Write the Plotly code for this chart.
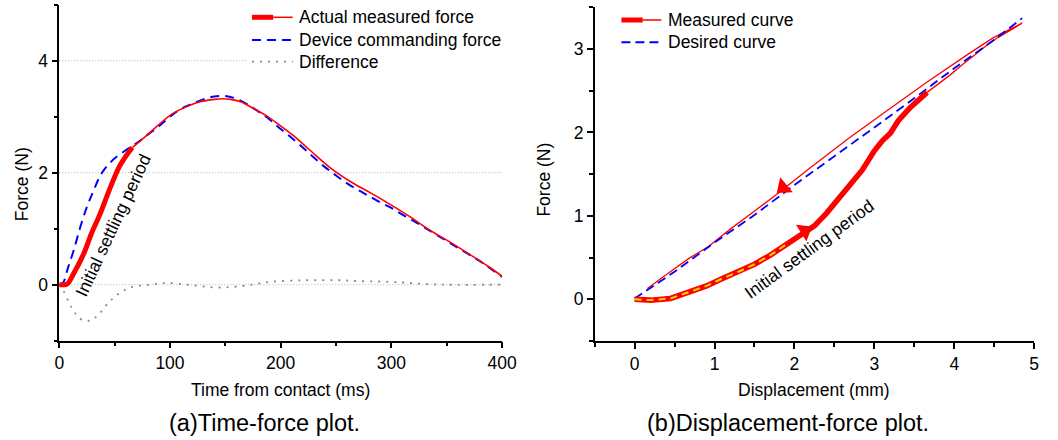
import plotly.graph_objects as go

W, H = 1058, 440
FONT = "Liberation Sans, Arial, Helvetica, sans-serif"

# ---------------- (a) Time-force data ----------------
t_act = [0, 3, 7, 13, 22, 29, 37, 45, 54, 60, 66, 78, 90, 102, 115, 128, 140, 147, 155, 165,
         175, 187, 199, 211, 226, 246, 264, 282, 300, 317, 335, 353, 370, 388, 400]
f_act = [0, 0, 0.01, 0.2, 0.55, 0.91, 1.27, 1.68, 2.1, 2.29, 2.45, 2.65, 2.86, 3.05, 3.18, 3.27,
         3.31, 3.32, 3.31, 3.26, 3.15, 3.02, 2.85, 2.67, 2.41, 2.07, 1.83, 1.63, 1.42, 1.21, 0.97,
         0.76, 0.55, 0.32, 0.15]
settle_end_ms = 66

t_cmd = [0, 3, 8, 13, 19, 25, 31, 38, 48, 60, 70, 80, 90, 100, 110, 120, 130, 140, 150, 160,
         170, 180, 190, 200, 210, 220, 230, 240, 250, 260, 270, 280, 290, 300, 310, 320, 330,
         340, 350, 360, 370, 380, 390, 400]
f_cmd = [0, 0.02, 0.31, 0.61, 1.03, 1.39, 1.68, 1.98, 2.22, 2.40, 2.53, 2.68, 2.83, 3.00, 3.14,
         3.23, 3.31, 3.36, 3.37, 3.32, 3.22, 3.09, 2.95, 2.78, 2.62, 2.45, 2.27, 2.10, 1.95, 1.81,
         1.69, 1.58, 1.47, 1.37, 1.25, 1.14, 1.02, 0.90, 0.78, 0.66, 0.54, 0.42, 0.28, 0.14]

t_diff = [0, 4, 11, 19, 28, 36, 45, 56, 66, 78, 97, 120, 143, 167, 190, 223, 252, 270, 300,
          317, 332, 350, 400]
f_diff = [0, -0.12, -0.4, -0.61, -0.64, -0.52, -0.31, -0.13, -0.04, -0.01, 0.03, -0.01, -0.05,
          -0.02, 0.05, 0.08, 0.08, 0.065, 0.05, 0.03, 0.01, 0.0, 0.0]

y_ticks_a = [0, 2, 4]

# ---------------- (b) Displacement-force data ----------------
disp_load_thick = [0.0, 0.2, 0.45, 0.7, 0.9, 1.1, 1.3, 1.5, 1.7, 1.9, 2.1, 2.25, 2.4, 2.55,
                   2.7, 2.85, 3.0, 3.1, 3.2, 3.3, 3.45, 3.6, 3.66]
force_load_thick = [0.0, -0.01, 0.01, 0.09, 0.16, 0.25, 0.33, 0.42, 0.53, 0.66, 0.78, 0.88,
                    1.03, 1.2, 1.36, 1.55, 1.78, 1.9, 1.99, 2.14, 2.3, 2.43, 2.48]
settle_end_mm = 1.95

disp_load_thin = [3.66, 3.8, 3.95, 4.1, 4.25, 4.4, 4.55, 4.7, 4.85]
force_load_thin = [2.48, 2.58, 2.69, 2.81, 2.93, 3.04, 3.14, 3.23, 3.31]

disp_return = [4.85, 4.7, 4.48, 4.16, 3.67, 3.17, 2.68, 2.19, 1.94, 1.74, 1.49, 1.21, 0.92,
               0.68, 0.39, 0.16]
force_return = [3.31, 3.24, 3.13, 2.93, 2.61, 2.27, 1.93, 1.57, 1.38, 1.23, 1.05, 0.85, 0.63,
                0.49, 0.29, 0.13]

disp_des = [0.0, 0.5, 1.0, 1.5, 2.0, 2.5, 3.0, 3.5, 4.0, 4.5, 4.85]
force_des = [0.01, 0.33, 0.68, 1.01, 1.37, 1.71, 2.06, 2.41, 2.77, 3.11, 3.37]

arrow_x = [2.13, 1.86]
arrow_y = [0.82, 1.34]
arrow_angle = [58, -130]

RED = "#ff0000"
BLUE = "#0000ff"
GRAY = "#8a8a8a"
YELLOW = "#f2d600"
GRID = "#b4b4b4"

TICK_SIZE = 17.5
LABEL_SIZE = 17.5
CAPTION_SIZE = 23.5

fig = go.Figure()

# ---- left panel ----
fig.add_trace(go.Scatter(x=t_diff, y=f_diff, mode="lines", xaxis="x", yaxis="y",
                         line=dict(color=GRAY, width=1.8, dash="2px,6px", shape="spline")))
fig.add_trace(go.Scatter(x=t_cmd, y=f_cmd, mode="lines", xaxis="x", yaxis="y",
                         line=dict(color=BLUE, width=2, dash="9px,6px", shape="spline")))
thin_t = [t for t in t_act if t >= settle_end_ms]
thin_f = [f for t, f in zip(t_act, f_act) if t >= settle_end_ms]
thick_t = [t for t in t_act if t <= settle_end_ms]
thick_f = [f for t, f in zip(t_act, f_act) if t <= settle_end_ms]
fig.add_trace(go.Scatter(x=thin_t, y=thin_f, mode="lines", xaxis="x", yaxis="y",
                         line=dict(color=RED, width=1.6, shape="spline")))
fig.add_trace(go.Scatter(x=thick_t, y=thick_f, mode="lines", xaxis="x", yaxis="y",
                         line=dict(color=RED, width=5, shape="spline")))

# ---- right panel ----
fig.add_trace(go.Scatter(x=disp_load_thin + disp_return[1:], y=force_load_thin + force_return[1:],
                         mode="lines", xaxis="x2", yaxis="y2",
                         line=dict(color=RED, width=1.3)))
fig.add_trace(go.Scatter(x=disp_des, y=force_des, mode="lines", xaxis="x2", yaxis="y2",
                         line=dict(color=BLUE, width=1.8, dash="9px,5px")))
fig.add_trace(go.Scatter(x=disp_load_thick, y=force_load_thick, mode="lines", xaxis="x2", yaxis="y2",
                         line=dict(color=RED, width=5.5)))
yx = [x for x in disp_load_thick if x <= settle_end_mm]
yy = [f for x, f in zip(disp_load_thick, force_load_thick) if x <= settle_end_mm]
fig.add_trace(go.Scatter(x=yx, y=yy, mode="lines", xaxis="x2", yaxis="y2",
                         line=dict(color=YELLOW, width=2, dash="7px,5px")))
fig.add_trace(go.Scatter(x=arrow_x, y=arrow_y, mode="markers", xaxis="x2", yaxis="y2",
                         marker=dict(symbol="triangle-up", size=17, color=RED, angle=arrow_angle,
                                     line=dict(width=0))))

axis_common = dict(showline=True, linecolor="black", linewidth=1.5, ticks="outside",
                   ticklen=6, tickwidth=1.5, tickcolor="black", zeroline=False, showgrid=False,
                   tickfont=dict(family=FONT, size=TICK_SIZE, color="black"))

def px_x(p):
    return p / W

def px_y(p):
    return 1 - p / H

fig.update_layout(
    width=W, height=H, margin=dict(l=0, r=0, t=0, b=0),
    paper_bgcolor="white", plot_bgcolor="white", showlegend=False,
    font=dict(family=FONT, color="black"),
    xaxis=dict(domain=[px_x(55.3), px_x(506.7)], range=[0, 400], anchor="y", dtick=100, tick0=0,
               minor=dict(ticks="outside", ticklen=4, dtick=50, tickwidth=1.5, tickcolor="black"),
               **axis_common),
    yaxis=dict(domain=[px_y(340.7), px_y(4.7)], range=[-1, 5], anchor="x",
               tickmode="array", tickvals=y_ticks_a,
               minor=dict(ticks="outside", ticklen=4, dtick=1, tick0=1, tickwidth=1.5,
                          tickcolor="black"),
               **axis_common),
    xaxis2=dict(domain=[px_x(601), px_x(1049)], range=[-0.5, 5], anchor="y2", dtick=1, tick0=0,
                minor=dict(ticks="outside", ticklen=4, dtick=0.5, tickwidth=1.5, tickcolor="black"),
                **axis_common),
    yaxis2=dict(domain=[px_y(341), px_y(7.3)], range=[-0.5, 3.5], anchor="x2", dtick=1, tick0=0,
                minor=dict(ticks="outside", ticklen=4, dtick=0.5, tickwidth=1.5, tickcolor="black"),
                **axis_common),
)

shapes = []
# dotted horizontal gridlines at the major y ticks; the top one stops at the legend
legend_left_frac = (246 - 55.3) / (506.7 - 55.3)
for i, v in enumerate(y_ticks_a):
    x_end = legend_left_frac if i == len(y_ticks_a) - 1 else 1
    shapes.append(dict(type="line", xref="x domain", yref="y", layer="below",
                       x0=0, x1=x_end, y0=v, y1=v,
                       line=dict(color=GRID, width=1, dash="1px,2px")))

def seg(x0, x1, y, color, width, dash="solid"):
    return dict(type="line", xref="paper", yref="paper", layer="above", x0=px_x(x0), x1=px_x(x1),
                y0=px_y(y), y1=px_y(y), line=dict(color=color, width=width, dash=dash))

# left legend
shapes.append(seg(251.7, 273.3, 17.3, RED, 5))
shapes.append(seg(273.3, 293.3, 17.3, RED, 1.5))
shapes.append(seg(251.7, 293.3, 40, BLUE, 2, "9px,6px"))
shapes.append(seg(251.7, 293.3, 61.7, GRAY, 1.8, "2px,6px"))
# right legend
shapes.append(seg(628.3, 650, 20, RED, 5))
shapes.append(seg(650, 669, 20, RED, 1.5))
shapes.append(seg(628.3, 669, 42.3, BLUE, 2, "9px,5px"))
fig.update_layout(shapes=shapes)

ann = []
def txt(x, y, s, size, xanchor="center", angle=0):
    ann.append(dict(x=px_x(x), y=px_y(y), xref="paper", yref="paper", text=s, showarrow=False,
                    xanchor=xanchor, yanchor="middle", textangle=angle,
                    font=dict(family=FONT, size=size, color="black")))

txt(297.5, 17.3, "Actual measured force", LABEL_SIZE, "left")
txt(297.5, 40, "Device commanding force", LABEL_SIZE, "left")
txt(297.5, 61.7, "Difference", LABEL_SIZE, "left")
txt(674, 20, "Measured curve", LABEL_SIZE, "left")
txt(674, 42.3, "Desired curve", LABEL_SIZE, "left")

txt(17.5, 184, "Force (N)", LABEL_SIZE, angle=-90)
txt(281, 390, "Time from contact (ms)", LABEL_SIZE)
txt(549, 180, "Force (N)", LABEL_SIZE, angle=-90)
txt(825, 390, "Displacement (mm)", LABEL_SIZE)
txt(265, 423, "(a)Time-force plot.", CAPTION_SIZE)
txt(798, 423, "(b)Displacement-force plot.", CAPTION_SIZE)

fig.update_layout(annotations=ann)
fig.add_annotation(x=49, y=1.06, xref="x", yref="y", text="Initial settling period",
                   showarrow=False, textangle=-65,
                   font=dict(family=FONT, size=LABEL_SIZE, color="black"))
fig.add_annotation(x=2.19, y=0.60, xref="x2", yref="y2", text="Initial settling period",
                   showarrow=False, textangle=-36,
                   font=dict(family=FONT, size=LABEL_SIZE, color="black"))

fig.write_html("out.html")
